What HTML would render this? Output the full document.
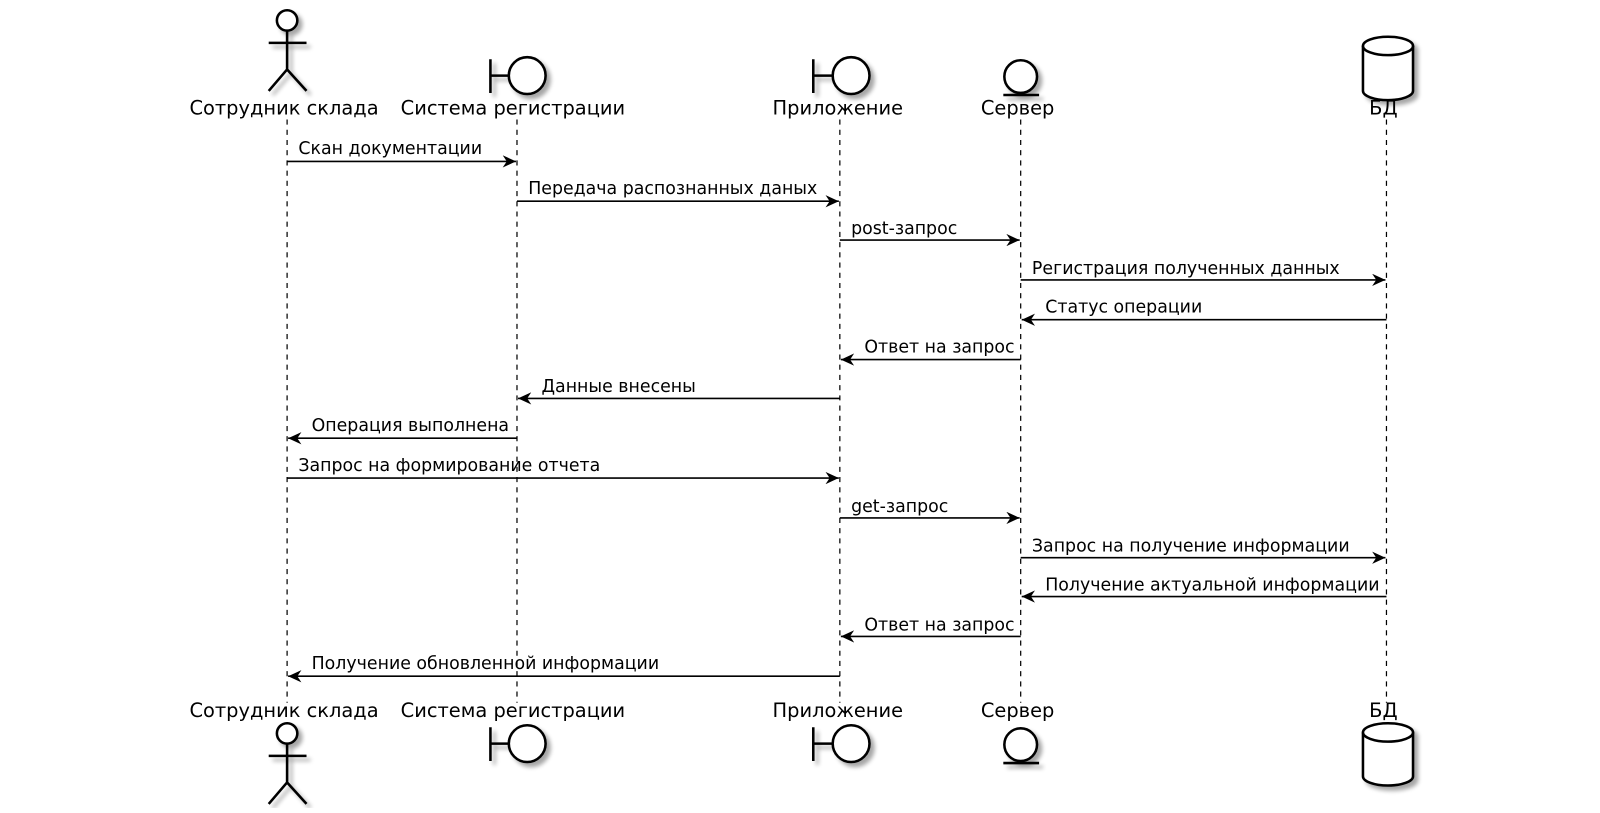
<!DOCTYPE html>
<html><head><meta charset="utf-8"><style>
html,body{margin:0;padding:0;background:#fff;}
svg text{font-family:"DejaVu Sans","Liberation Sans",sans-serif;font-size:17px;fill:#000;}
.n{font-size:19px;}
</style></head><body>
<svg width="1600" height="808" viewBox="0 0 1566 791" preserveAspectRatio="none" xmlns="http://www.w3.org/2000/svg">
<defs>
<filter id="sh" x="-50%" y="-50%" width="200%" height="200%"><feGaussianBlur in="SourceAlpha" stdDeviation="2"/><feOffset dx="4" dy="4"/><feComponentTransfer><feFuncA type="linear" slope="0.35"/></feComponentTransfer><feMerge><feMergeNode/><feMergeNode in="SourceGraphic"/></feMerge></filter>
<marker id="a" markerWidth="14" markerHeight="12" refX="13" refY="6" orient="auto" markerUnits="userSpaceOnUse"><path d="M0,0 L13,6 L0,12 L4,6 Z" fill="#000"/></marker>
</defs>
<g stroke="#000" stroke-width="1.2" stroke-dasharray="5,5">
<line x1="281" y1="117" x2="281" y2="688"/>
<line x1="506" y1="117" x2="506" y2="688"/>
<line x1="822" y1="117" x2="822" y2="688"/>
<line x1="999" y1="117" x2="999" y2="688"/>
<line x1="1357" y1="117" x2="1357" y2="688"/>
</g>
<g fill="#fff" stroke="#000" stroke-width="2.5" filter="url(#sh)">
<circle cx="281" cy="20" r="10"/>
<path d="M281,30 V68 M263,42 H300 M263,89 L281,68 L300,89" fill="none"/>
<path d="M480,58 V91 M480,74 H498" fill="none"/><circle cx="516" cy="74" r="18"/>
<path d="M796,58 V91 M796,74 H814" fill="none"/><circle cx="833" cy="74" r="18"/>
<circle cx="999" cy="75" r="16"/><path d="M982,93 H1017" fill="none"/>
<path d="M1334,45 V89 A24.5,9 0 0 0 1383,89 V45" /><ellipse cx="1358.5" cy="45" rx="24.5" ry="9"/>
</g>
<g fill="#fff" stroke="#000" stroke-width="2.5" filter="url(#sh)">
<circle cx="281" cy="718" r="10"/>
<path d="M281,728 V766 M263,740 H300 M263,787 L281,766 L300,787" fill="none"/>
<path d="M480,712 V745 M480,728 H498" fill="none"/><circle cx="516" cy="728" r="18"/>
<path d="M796,712 V745 M796,728 H814" fill="none"/><circle cx="833" cy="728" r="18"/>
<circle cx="999" cy="729" r="16"/><path d="M982,747 H1017" fill="none"/>
<path d="M1334,717 V760 A24.5,9 0 0 0 1383,760 V717"/><ellipse cx="1358.5" cy="717" rx="24.5" ry="9"/>
</g>
<g text-anchor="middle">
<text class="n" x="278" y="112">Сотрудник склада</text>
<text class="n" x="502" y="112">Система регистрации</text>
<text class="n" x="820" y="112">Приложение</text>
<text class="n" x="996" y="112">Сервер</text>
<text class="n" x="1354" y="112">БД</text>
<text class="n" x="278" y="702">Сотрудник склада</text>
<text class="n" x="502" y="702">Система регистрации</text>
<text class="n" x="820" y="702">Приложение</text>
<text class="n" x="996" y="702">Сервер</text>
<text class="n" x="1354" y="702">БД</text>
</g>
<g stroke="#000" stroke-width="1.6" marker-end="url(#a)">
<line x1="281" y1="158" x2="505" y2="158"/>
<line x1="506" y1="197" x2="821" y2="197"/>
<line x1="822" y1="235" x2="998" y2="235"/>
<line x1="999" y1="274" x2="1356" y2="274"/>
<line x1="1357" y1="313" x2="1000" y2="313"/>
<line x1="999" y1="352" x2="823" y2="352"/>
<line x1="822" y1="390" x2="507" y2="390"/>
<line x1="506" y1="429" x2="282" y2="429"/>
<line x1="281" y1="468" x2="821" y2="468"/>
<line x1="822" y1="507" x2="998" y2="507"/>
<line x1="999" y1="546" x2="1356" y2="546"/>
<line x1="1357" y1="584" x2="1000" y2="584"/>
<line x1="999" y1="623" x2="823" y2="623"/>
<line x1="822" y1="662" x2="282" y2="662"/>
</g>
<text x="292" y="151">Скан документации</text>
<text x="517" y="190">Передача распознанных даных</text>
<text x="833" y="229">post-запрос</text>
<text x="1010" y="268">Регистрация полученных данных</text>
<text x="1023" y="306">Статус операции</text>
<text x="846" y="345">Ответ на запрос</text>
<text x="530" y="384">Данные внесены</text>
<text x="305" y="422">Операция выполнена</text>
<text x="292" y="461">Запрос на формирование отчета</text>
<text x="833" y="501">get-запрос</text>
<text x="1010" y="540">Запрос на получение информации</text>
<text x="1023" y="578">Получение актуальной информации</text>
<text x="846" y="617">Ответ на запрос</text>
<text x="305" y="655">Получение обновленной информации</text>
</svg>
</body></html>
